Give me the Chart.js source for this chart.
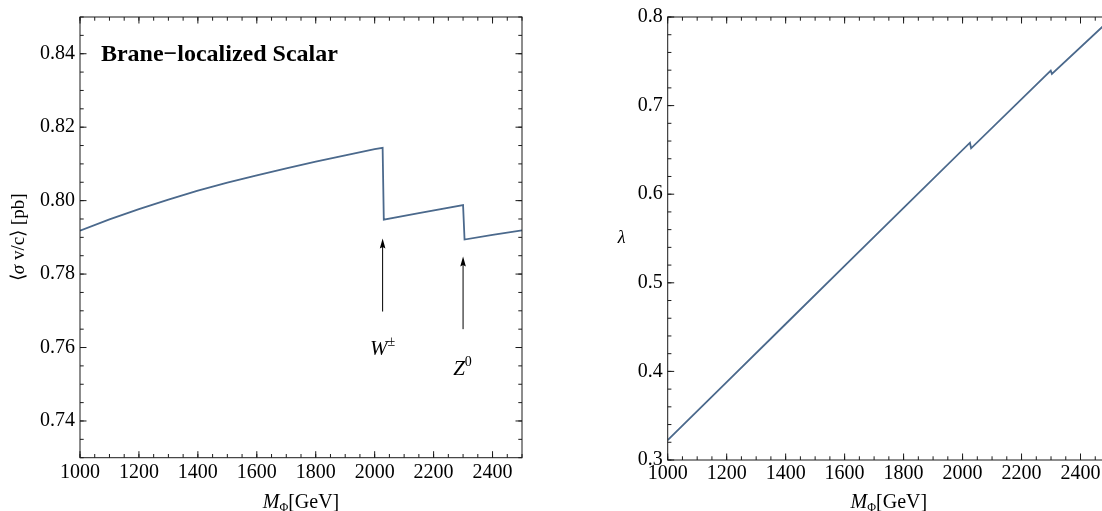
<!DOCTYPE html>
<html>
<head>
<meta charset="utf-8">
<script src="https://cdn.jsdelivr.net/npm/chart.js@4.4.1/dist/chart.umd.min.js"></script>
<style>
    html, body { margin: 0; padding: 0; background: #fff; overflow: hidden; width: 1102px; height: 511px; }
    #left-chart { position: absolute; left: 0; top: 0; }
    #right-chart { position: absolute; left: 560px; top: 0; }
</style>
</head>
<body>
<canvas id="left-chart" width="560" height="511"></canvas>
<canvas id="right-chart" width="600" height="511"></canvas>
<script>
// Left panel: <sigma v/c> vs M_Phi
const massLeft = [1000, 1100, 1200, 1300, 1400, 1500, 1600, 1700, 1800, 1900, 2000, 2027, 2031, 2150, 2300, 2305, 2400, 2500];
const sigmaV   = [0.7918, 0.7949, 0.7977, 0.8003, 0.8027, 0.8049, 0.8069, 0.8088, 0.8106, 0.8123, 0.8140, 0.8144, 0.7948, 0.7966, 0.7988, 0.7894, 0.7907, 0.7919];

// Right panel: lambda vs M_Phi
const massRight  = [1000, 1200, 1400, 1600, 1800, 2025, 2029, 2299, 2303, 2500];
const lambdaVals = [0.3225, 0.3880, 0.4535, 0.5190, 0.5845, 0.6581, 0.6518, 0.7395, 0.7358, 0.7970];

// Ticks
const xTicks      = [1000, 1200, 1400, 1600, 1800, 2000, 2200, 2400];
const yTicksLeft  = [0.74, 0.76, 0.78, 0.80, 0.82, 0.84];
const yTicksRight = [0.3, 0.4, 0.5, 0.6, 0.7, 0.8];

// Threshold arrows (left panel)
const arrowMass  = [2027, 2300];
const arrowTail  = [0.7698, 0.7650];
const arrowTip   = [0.7897, 0.7848];
const arrowNames = ["W", "Z"];
const arrowSups  = ["\u00b1", "0"];
const labelMass  = [2027, 2298];
const labelY     = [0.7579, 0.7525];

const LINE_COLOR = "#4b698c";
const SERIF = "'Liberation Serif', 'Times New Roman', serif";

function minorList(lo, hi, step) {
    const out = [];
    for (let v = lo; v <= hi + step / 10; v += step) out.push(+v.toFixed(4));
    return out;
}
const xMinor = minorList(1000, 2500, 50);
const yMinorLeft = minorList(0.73, 0.85, 0.005);
const yMinorRight = minorList(0.3, 0.8, 0.02);

// draw a sequence of text runs with different fonts
function drawRuns(ctx, runs, x, y, align) {
    let total = 0;
    runs.forEach(r => { ctx.font = r.font; total += ctx.measureText(r.t).width; });
    let cx = align === "center" ? x - total / 2 : x;
    ctx.textAlign = "left";
    ctx.textBaseline = "alphabetic";
    runs.forEach(r => {
        ctx.font = r.font;
        ctx.fillText(r.t, cx, y + (r.dy || 0));
        cx += ctx.measureText(r.t).width;
    });
}

// frame with inward ticks on all four sides
const framePlugin = {
    id: "frame",
    afterDatasetsDraw(chart, args, opts) {
        const { ctx, chartArea: a } = chart;
        const xs = chart.scales.x, ys = chart.scales.y;
        ctx.save();
        ctx.strokeStyle = "#1a1a1a";
        ctx.lineWidth = 1;
        ctx.strokeRect(a.left, a.top, a.right - a.left, a.bottom - a.top);
        const tick = (vals, len, horiz) => {
            ctx.beginPath();
            vals.forEach(v => {
                if (horiz) {
                    const p = xs.getPixelForValue(v);
                    ctx.moveTo(p, a.bottom); ctx.lineTo(p, a.bottom - len);
                    ctx.moveTo(p, a.top); ctx.lineTo(p, a.top + len);
                } else {
                    const p = ys.getPixelForValue(v);
                    ctx.moveTo(a.left, p); ctx.lineTo(a.left + len, p);
                    ctx.moveTo(a.right, p); ctx.lineTo(a.right - len, p);
                }
            });
            ctx.stroke();
        };
        tick(opts.xMinor, 3.7, true);
        tick(xTicks, 6.5, true);
        tick(opts.yMinor, 3.7, false);
        tick(opts.yMajor, 6.5, false);
        ctx.restore();
    }
};

// annotations and axis titles
const textPlugin = {
    id: "texts",
    afterDraw(chart, args, opts) {
        const { ctx, chartArea: a } = chart;
        const xs = chart.scales.x, ys = chart.scales.y;
        ctx.save();
        ctx.fillStyle = "#000";
        ctx.strokeStyle = "#000";
        // x title
        drawRuns(ctx, [
            { t: "M", font: "italic 20px " + SERIF },
            { t: "\u03a6", font: "12px " + SERIF, dy: 3 },
            { t: "[GeV]", font: "20px " + SERIF }
        ], (a.left + a.right) / 2, 508, "center");

        if (opts.side === "left") {
            // panel title
            ctx.font = "bold 24px " + SERIF;
            ctx.textAlign = "left";
            ctx.fillText("Brane\u2212localized Scalar", xs.getPixelForValue(1071), ys.getPixelForValue(0.838));
            // y title, rotated
            ctx.save();
            ctx.translate(18, (a.top + a.bottom) / 2);
            ctx.rotate(-Math.PI / 2);
            drawRuns(ctx, [
                { t: "\u27e8", font: "19px " + SERIF },
                { t: "\u03c3", font: "italic 19px " + SERIF },
                { t: " v/c\u27e9 [pb]", font: "19px " + SERIF }
            ], 0, 6, "center");
            ctx.restore();
            // arrows
            arrowMass.forEach((m, i) => {
                const px = xs.getPixelForValue(m);
                const y0 = ys.getPixelForValue(arrowTail[i]);
                const y1 = ys.getPixelForValue(arrowTip[i]);
                ctx.lineWidth = 1;
                ctx.beginPath();
                ctx.moveTo(px, y0); ctx.lineTo(px, y1 + 8);
                ctx.stroke();
                ctx.beginPath();
                ctx.moveTo(px, y1);
                ctx.lineTo(px - 2.8, y1 + 10);
                ctx.lineTo(px, y1 + 8.5);
                ctx.lineTo(px + 2.8, y1 + 10);
                ctx.closePath();
                ctx.fill();
                drawRuns(ctx, [
                    { t: arrowNames[i], font: "italic 21px " + SERIF },
                    { t: arrowSups[i], font: "14px " + SERIF, dy: -9 }
                ], xs.getPixelForValue(labelMass[i]), ys.getPixelForValue(labelY[i]), "center");
            });
        } else {
            ctx.font = "italic 18px " + SERIF;
            ctx.textAlign = "center";
            ctx.textBaseline = "middle";
            ctx.fillText("\u03bb", a.left - 46, (a.top + a.bottom) / 2);
        }
        ctx.restore();
    }
};

function makeChart(id, mass, vals, cfg) {
    return new Chart(document.getElementById(id), {
        type: "line",
        data: {
            datasets: [{
                data: mass.map((m, i) => ({ x: m, y: vals[i] })),
                borderColor: LINE_COLOR,
                borderWidth: 1.8,
                pointRadius: 0,
                tension: 0,
                fill: false
            }]
        },
        options: {
            responsive: false,
            animation: false,
            layout: { padding: { top: cfg.top, right: cfg.right, left: 0, bottom: 0 } },
            plugins: {
                legend: { display: false },
                tooltip: { enabled: false },
                frame: { xMinor: xMinor, yMinor: cfg.yMinor, yMajor: cfg.yTicks },
                texts: { side: cfg.side }
            },
            scales: {
                x: {
                    type: "linear", min: 1000, max: 2500,
                    afterBuildTicks: s => { s.ticks = xTicks.map(v => ({ value: v })); },
                    afterFit: s => { s.height = cfg.xh; },
                    grid: { display: false, drawTicks: false },
                    border: { display: false },
                    ticks: {
                        font: { family: SERIF, size: 20 }, color: "#000",
                        padding: cfg.xpad, maxRotation: 0, autoSkip: false,
                        callback: v => String(v)
                    }
                },
                y: {
                    type: "linear", min: cfg.ymin, max: cfg.ymax,
                    afterBuildTicks: s => { s.ticks = cfg.yTicks.map(v => ({ value: v })); },
                    afterFit: s => { s.width = cfg.yw; },
                    grid: { display: false, drawTicks: false },
                    border: { display: false },
                    ticks: {
                        font: { family: SERIF, size: 20 }, color: "#000",
                        padding: 5, autoSkip: false,
                        callback: v => v.toFixed(cfg.dec)
                    }
                }
            }
        },
        plugins: [framePlugin, textPlugin]
    });
}

makeChart("left-chart", massLeft, sigmaV, {
    side: "left", top: 16, right: 38, xh: 53.3, yw: 80, xpad: 3,
    ymin: 0.73, ymax: 0.85, yTicks: yTicksLeft, yMinor: yMinorLeft, dec: 2
});
makeChart("right-chart", massRight, lambdaVals, {
    side: "right", top: 16, right: 50, xh: 51, yw: 107.7, xpad: 2,
    ymin: 0.3, ymax: 0.8, yTicks: yTicksRight, yMinor: yMinorRight, dec: 1
});
</script>
</body>
</html>
